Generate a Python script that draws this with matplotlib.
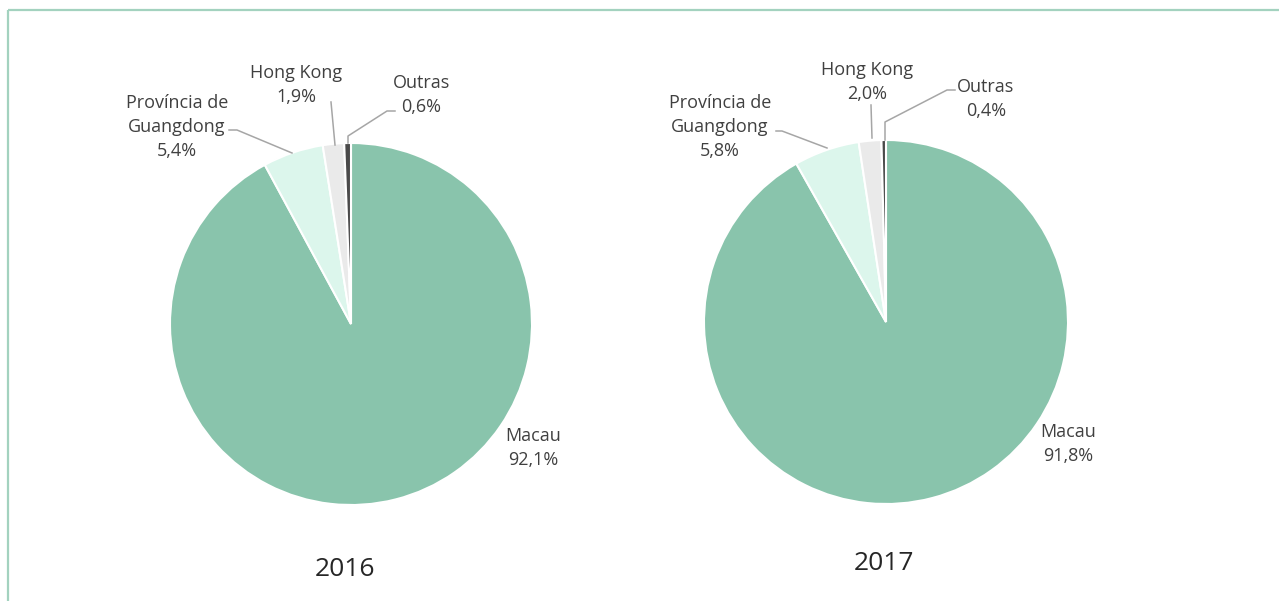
import matplotlib
matplotlib.use("Agg")
import matplotlib.pyplot as plt

categories = ["Macau", "Província de\nGuangdong", "Hong Kong", "Outras"]
values_2016 = [92.1, 5.4, 1.9, 0.6]
values_2017 = [91.8, 5.8, 2.0, 0.4]
years = ["2016", "2017"]
colors = ["#89C4AC", "#DCF6EC", "#EAEAEA", "#4A4A4A"]

W, H = 1279, 601
fig = plt.figure(figsize=(W / 100, H / 100), dpi=100)
ax = fig.add_axes([0, 0, 1, 1])
ax.set_xlim(0, W)
ax.set_ylim(0, H)
ax.set_aspect("equal")
ax.axis("off")

def Y(y):
    return H - y

FONT = "Open Sans"
TXT = "#404040"
LEAD = "#A6A6A6"

# frame
ax.plot([7.5, W], [Y(9.5), Y(9.5)], color="#A3D2BF", lw=1.6, solid_capstyle="butt")
ax.plot([7.5, 7.5], [Y(9.5), 0], color="#A3D2BF", lw=1.6, solid_capstyle="butt")

pies = [
    dict(vals=values_2016, center=(351, 324), r=181, year_pos=(345, 569),
         labels=[(533, 448), (177, 127), (296, 85), (421, 95)],
         leaders=[None,
                  [(229, 130), (237, 130), (292, 153)],
                  [(331, 102), (335, 145)],
                  [(395, 111), (387, 111), (348, 136), (348, 143)]]),
    dict(vals=values_2017, center=(886, 322), r=182, year_pos=(884, 564),
         labels=[(1068, 444), (720, 127), (867, 82), (986, 99)],
         leaders=[None,
                  [(776, 131), (782, 131), (827, 148)],
                  [(871, 105), (872, 138)],
                  [(955, 90), (947, 90), (885, 122), (885, 140)]]),
]

for p, year in zip(pies, years):
    cx, cy = p["center"]
    ax.pie(p["vals"], colors=colors, startangle=90, counterclock=False,
           center=(cx, Y(cy)), radius=p["r"],
           wedgeprops=dict(edgecolor="white", linewidth=1.5))
    for cat, v, (lx, ly), lead in zip(categories, p["vals"], p["labels"], p["leaders"]):
        txt = f"{cat}\n{v:.1f}%".replace(".", ",")
        ax.text(lx, Y(ly), txt, ha="center", va="center", fontsize=13,
                family=FONT, color=TXT, linespacing=1.45)
        if lead:
            xs = [q[0] for q in lead]
            ys = [Y(q[1]) for q in lead]
            ax.plot(xs, ys, color=LEAD, lw=1.1)
    ax.text(p["year_pos"][0], Y(p["year_pos"][1]), year, ha="center", va="center",
            fontsize=19, family=FONT, color="#262626")

ax.set_xlim(0, W)
ax.set_ylim(0, H)
fig.savefig("out.png", dpi=100)
